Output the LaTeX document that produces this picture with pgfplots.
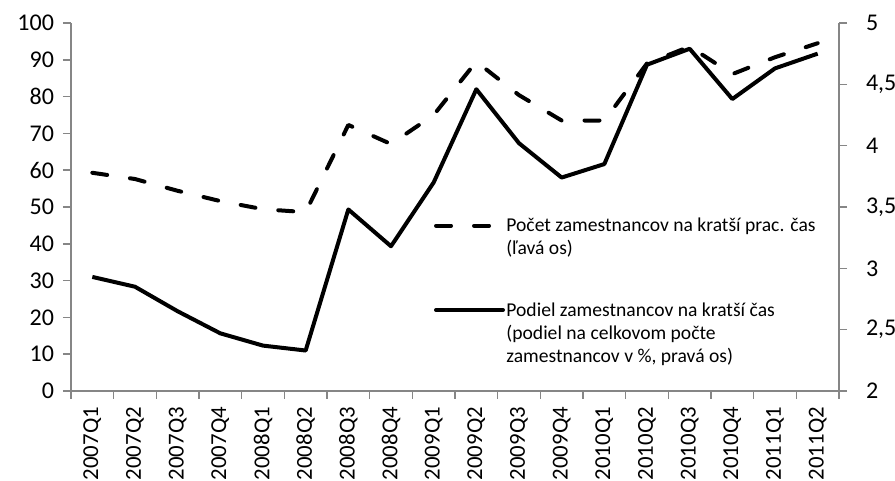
\documentclass[border=0pt]{standalone}
\usepackage{pgfplots}
\pgfplotsset{compat=1.18}
\usepackage{fontspec}
\setmainfont{Carlito}
\definecolor{axgray}{HTML}{868686}
\pgfplotsset{
  common/.style={
    scale only axis, width=384pt, height=184pt,
    xmin=-0.5, xmax=17.5,
    axis line style={axgray, line width=0.75pt},
    tick style={axgray, line width=0.75pt},
    tick align=outside,
    major tick length=4pt, minor tick length=4pt,
    ticklabel style={font=\fontsize{12}{14}\selectfont, text=black},
    /pgf/number format/assume math mode=true,
  }
}
\begin{document}
\begin{tikzpicture}
\begin{axis}[common,
  ymin=0, ymax=100,
  axis x line*=bottom, axis y line*=left,
  xtick={0,...,17},
  xticklabels={2007Q1,2007Q2,2007Q3,2007Q4,2008Q1,2008Q2,2008Q3,2008Q4,2009Q1,2009Q2,2009Q3,2009Q4,2010Q1,2010Q2,2010Q3,2010Q4,2011Q1,2011Q2},
  major x tick style={draw=none},
  minor xtick={-0.5,0.5,1.5,2.5,3.5,4.5,5.5,6.5,7.5,8.5,9.5,10.5,11.5,12.5,13.5,14.5,15.5,16.5,17.5},
  xticklabel style={font=\fontsize{11.4}{13}\selectfont, yshift=-0.5pt, rotate=90, anchor=east},
  ytick={0,10,...,100},
  yticklabel style={xshift=-1pt},
]
\addplot[black, line width=2pt, dash pattern=on 7.5pt off 11.5pt, line cap=round, line join=round] coordinates {
(0,59.3) (1,57.6) (2,54.4) (3,51.6) (4,49.4) (5,48.6) (6,72.3) (7,67.1) (8,75.0)
(9,89.5) (10,80.4) (11,73.5) (12,73.5) (13,89.0) (14,93.6) (15,86.1) (16,90.7) (17,94.5)};
\coordinate (bl) at (rel axis cs:0,0);
\end{axis}
\begin{axis}[common,
  ymin=2, ymax=5,
  axis x line=none, axis y line*=right,
  ytick={2,2.5,...,5},
  yticklabel style={xshift=6pt, /pgf/number format/.cd, use comma, fixed, precision=1},
]
\addplot[black, line width=2pt, line join=round] coordinates {
(0,2.93) (1,2.85) (2,2.65) (3,2.47) (4,2.37) (5,2.33) (6,3.48) (7,3.18) (8,3.70)
(9,4.46) (10,4.02) (11,3.74) (12,3.85) (13,4.66) (14,4.79) (15,4.38) (16,4.63) (17,4.75)};
% legend
\draw[black, line width=2pt, dash pattern=on 7.5pt off 11.5pt, line cap=round] (rel axis cs:0.4753,0.4492) -- (rel axis cs:0.5443,0.4492);
\draw[black, line width=2pt, line cap=round] (rel axis cs:0.4753,0.2201) -- (rel axis cs:0.5625,0.2201);
\begin{scope}[every node/.style={anchor=base west, inner sep=0pt, font=\fontsize{9.8}{12}\selectfont}]
\node at (rel axis cs:0.5664,0.4329) {Počet zamestnancov na kratší prac. čas};
\node at (rel axis cs:0.5664,0.3709) {(ľavá os)};
\node at (rel axis cs:0.5664,0.2019) {Podiel zamestnancov na kratší čas};
\node at (rel axis cs:0.5664,0.1405) {(podiel na celkovom počte};
\node at (rel axis cs:0.5664,0.0788) {zamestnancov v \%, pravá os)};
\end{scope}
\end{axis}
\pgfresetboundingbox
\path ([shift={(-35.5pt,-45pt)}]bl) rectangle ++(447.5pt,240.5pt);
\end{tikzpicture}
\end{document}
